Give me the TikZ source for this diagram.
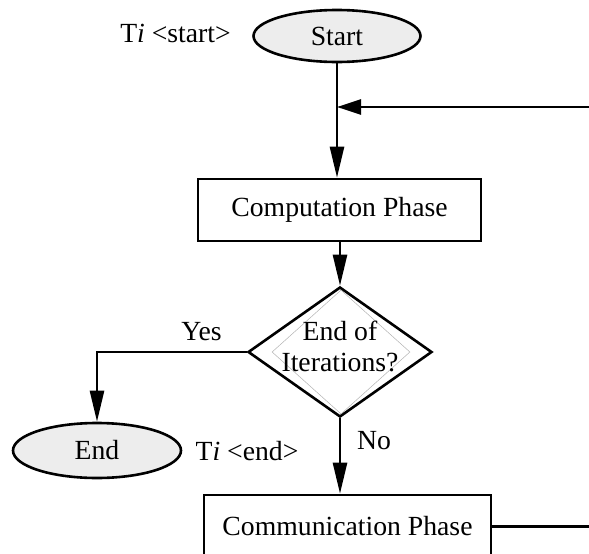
\documentclass[tikz,border=0pt]{standalone}
\usepackage{fontspec}
\setmainfont{Liberation Serif}
\usetikzlibrary{shapes.geometric,arrows.meta}
\definecolor{termfill}{HTML}{EDEDED}
\begin{document}
\begin{tikzpicture}[x=1pt,y=-1pt,
  every node/.style={font=\fontsize{27.7}{31.5}\selectfont, inner sep=0pt},
  flowline/.style={line width=2.6pt},
  terminal/.style={ellipse, draw, line width=2.6pt, fill=termfill},
  phase/.style={rectangle, draw, line width=2.6pt},
  decision/.style={diamond, draw, line width=2.6pt},
  tip/.style={-{Triangle[length=31pt,width=14pt]}},
  sidetip/.style={-{Triangle[length=24pt,width=15pt]}}]
  \useasboundingbox (0,0) rectangle (589,554);
  \clip (0,0) rectangle (589,554);

  % terminals
  \node[terminal, minimum width=167, minimum height=52] (start) at (337,36) {Start};
  \node[terminal, minimum width=168, minimum height=55] (end) at (97,450.5) {End};
  \node[anchor=base] (tstart) at (175.5,42.7) {T\textit{i} \textless start\textgreater};
  \node[anchor=base] (tend) at (247,460) {T\textit{i} \textless end\textgreater};

  % phases
  \node[phase, minimum width=283, minimum height=62] (comp) at (339.5,210) {Computation Phase};
  \node[phase, minimum width=287, minimum height=63] (comm) at (347.5,526.5) {Communication Phase};

  % decision with its thin inner outline
  \node[decision, minimum width=184, minimum height=130] (dec) at (340,352) {};
  \node[diamond, draw=black!30, line width=0.5pt, minimum width=138, minimum height=124] (decin) at (341,352) {};
  \node[align=center] (dectext) at (340,346.5) {End of\\Iterations?};

  % branch labels
  \node[anchor=base] (yes) at (201.5,340) {Yes};
  \node[anchor=base] (no) at (374,449) {No};

  % flow
  \coordinate (join) at (start.south |- 0,107);
  \draw[flowline, tip] (start.south) -- (start.south |- comp.north);
  \draw[flowline, tip] (comp.south -| dec.north) -- (dec.north);
  \draw[flowline, tip] (dec.west) -| (end.north);
  \draw[flowline, tip] (dec.south) -- (dec.south |- comm.north);
  \draw[flowline, sidetip] (comm.east) -- ++(130,0) |- (join);
\end{tikzpicture}
\end{document}
